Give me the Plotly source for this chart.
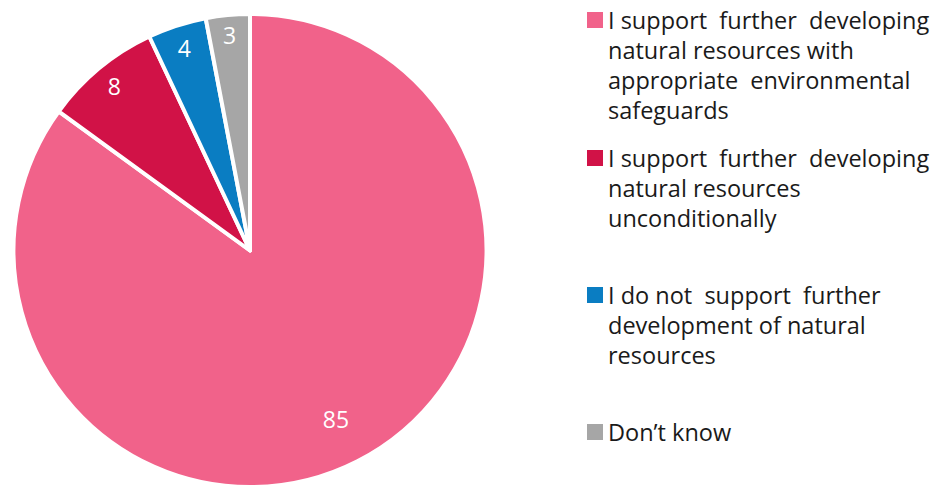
import plotly.graph_objects as go

# Survey responses (percent)
categories = [
    "I support further developing natural resources with appropriate environmental safeguards",
    "I support further developing natural resources unconditionally",
    "I do not support further development of natural resources",
    "Don\u2019t know",
]
values = [85, 8, 4, 3]
legend_lines = [
    ["I support  further  developing", "natural resources with", "appropriate  environmental", "safeguards"],
    ["I support  further  developing", "natural resources", "unconditionally"],
    ["I do not  support  further", "development of natural", "resources"],
    ["Don\u2019t know"],
]
colors = ["#F1628A", "#D11247", "#0A7DC2", "#A6A6A6"]

W, H = 932, 487
TOP = 14
PLOT_H = H - TOP
FONT = "Open Sans"
domain = dict(x=[12 / W, 488 / W], y=[0, 1])


def py(v):
    """Convert a pixel row of the page into paper y (plot area below the top margin)."""
    return 1 - (v - TOP) / PLOT_H


# Filled slices
fig = go.Figure(
    go.Pie(
        labels=categories,
        values=values,
        sort=False,
        direction="clockwise",
        rotation=0,
        marker=dict(colors=colors, line=dict(color="white", width=4)),
        textinfo="none",
        hoverinfo="label+value",
        showlegend=False,
        domain=domain,
    )
)

# Transparent rings carrying the value labels: the large slice's label sits
# mid-way out, the narrow slices' labels close to the rim.
big = max(values)
for hole, show in [(0.6, lambda v: v == big), (0.8, lambda v: v != big)]:
    fig.add_trace(
        go.Pie(
            labels=categories,
            values=values,
            sort=False,
            direction="clockwise",
            rotation=0,
            hole=hole,
            marker=dict(colors=["rgba(0,0,0,0)"] * len(values), line=dict(width=0)),
            texttemplate=["%{value}" if show(v) else "" for v in values],
            textposition="inside",
            insidetextorientation="horizontal",
            textfont=dict(family=FONT, size=23, color="white"),
            hoverinfo="skip",
            showlegend=False,
            domain=domain,
        )
    )

# Hand-built legend: coloured square plus wrapped label for each slice
row_top = [20, 158, 295, 432]  # vertical centre of each entry's first line (px)
line_gap = 30
for lines, color, yc in zip(legend_lines, colors, row_top):
    fig.add_shape(
        type="rect", xref="paper", yref="paper",
        x0=587 / W, x1=603 / W, y0=py(yc - 8), y1=py(yc + 8),
        fillcolor=color, line=dict(width=0),
    )
    for i, txt in enumerate(lines):
        fig.add_annotation(
            x=606 / W, y=py(yc + i * line_gap), xref="paper", yref="paper",
            xanchor="left", yanchor="middle", showarrow=False,
            text=txt, font=dict(family=FONT, size=23.5, color="#1A1A1A"),
        )

fig.update_layout(
    width=W, height=H,
    margin=dict(l=0, r=0, t=TOP, b=0),
    paper_bgcolor="white", plot_bgcolor="white",
)

fig.write_html("out.html")
